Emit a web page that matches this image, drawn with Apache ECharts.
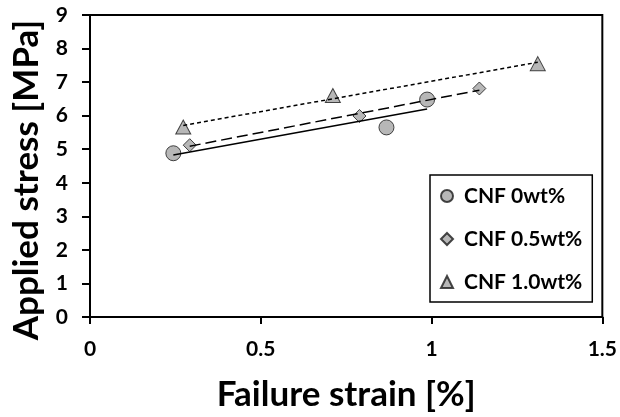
<!DOCTYPE html>
<html>
<head>
<meta charset="utf-8">
<script src="https://cdn.jsdelivr.net/npm/echarts@6/dist/echarts.min.js"></script>
<style>
html,body{margin:0;padding:0;background:#fff;}
#chart{width:620px;height:417px;}
</style>
</head>
<body>
<div id="chart"></div>
<script>
// ---- data ----
const seriesNames = ['CNF 0wt%', 'CNF 0.5wt%', 'CNF 1.0wt%'];
const strain0  = [0.244, 0.868, 0.987];
const stress0  = [4.88, 5.65, 6.48];
const strain05 = [0.292, 0.789, 1.140];
const stress05 = [5.12, 5.99, 6.81];
const strain10 = [0.273, 0.711, 1.311];
const stress10 = [5.66, 6.60, 7.55];
// linear trendline end points
const trendX0  = [0.244, 0.987];
const trendY0  = [4.83, 6.20];
const trendX05 = [0.292, 1.140];
const trendY05 = [5.09, 6.76];
const trendX10 = [0.273, 1.311];
const trendY10 = [5.71, 7.59];
const xTickLabels = ['0', '0.5', '1', '1.5'];
const yTickLabels = ['0','1','2','3','4','5','6','7','8','9'];

const pairs = (xs, ys) => xs.map((x, i) => [x, ys[i]]);
const FONT = 'Lato';

const markerStyle = { color: '#a5a5a5', borderColor: '#1a1a1a', borderWidth: 1 };

const chart = echarts.init(document.getElementById('chart'), null, { renderer: 'canvas' });
chart.setOption({
  animation: false,
  backgroundColor: '#ffffff',
  grid: { left: 90, right: 17, top: 15, bottom: 98, show: true, borderColor: '#000', borderWidth: 2, backgroundColor: 'transparent' },
  xAxis: {
    type: 'value', min: 0, max: 1.5, interval: 0.5,
    name: 'Failure strain [%]', nameLocation: 'middle', nameGap: 60,
    nameTextStyle: { fontFamily: FONT, fontWeight: 'bold', fontSize: 35, color: '#000' },
    axisLine: { show: true, lineStyle: { color: '#000', width: 2 } },
    axisTick: { show: true, inside: false, length: 7, lineStyle: { color: '#000', width: 2 } },
    axisLabel: { margin: 22, fontFamily: FONT, fontWeight: 'bold', fontSize: 21, color: '#000',
      formatter: v => xTickLabels[Math.round(v / 0.5)] },
    splitLine: { show: false }
  },
  yAxis: {
    type: 'value', min: 0, max: 9, interval: 1,
    name: 'Applied stress [MPa]', nameLocation: 'middle', nameGap: 46,
    nameTextStyle: { fontFamily: FONT, fontWeight: 'bold', fontSize: 35, color: '#000', padding: [0, 28, 0, 0] },
    axisLine: { show: true, lineStyle: { color: '#000', width: 2 } },
    axisTick: { show: true, inside: false, length: 8, lineStyle: { color: '#000', width: 2 } },
    axisLabel: { margin: 22, fontFamily: FONT, fontWeight: 'bold', fontSize: 21, color: '#000',
      formatter: v => yTickLabels[Math.round(v)] },
    splitLine: { show: false }
  },
  legend: {
    orient: 'vertical', left: 430, top: 175, width: 163,
    data: seriesNames,
    backgroundColor: '#fff', borderColor: '#000', borderWidth: 1.5,
    padding: [9, 10, 8, 10], itemGap: 19, itemWidth: 12, itemHeight: 12,
    textStyle: { fontFamily: FONT, fontWeight: 'bold', fontSize: 21, color: '#000', padding: [0, 0, 0, 6], lineHeight: 24 }
  },
  series: [
    { name: seriesNames[0], type: 'scatter', symbol: 'circle', symbolSize: 15, z: 2,
      itemStyle: markerStyle, data: pairs(strain0, stress0) },
    { name: seriesNames[1], type: 'scatter', symbol: 'diamond', symbolSize: 13, z: 2,
      itemStyle: markerStyle, data: pairs(strain05, stress05) },
    { name: seriesNames[2], type: 'scatter', symbol: 'triangle', symbolSize: [15, 14], z: 2,
      itemStyle: markerStyle, data: pairs(strain10, stress10) },
    { name: 'trend0', type: 'line', showSymbol: false, symbol: 'none', z: 3, silent: true,
      lineStyle: { color: '#000', width: 1.5, type: 'solid' }, data: pairs(trendX0, trendY0) },
    { name: 'trend05', type: 'line', showSymbol: false, symbol: 'none', z: 3, silent: true,
      lineStyle: { color: '#000', width: 1.5, type: [11, 5] }, data: pairs(trendX05, trendY05) },
    { name: 'trend10', type: 'line', showSymbol: false, symbol: 'none', z: 3, silent: true,
      lineStyle: { color: '#000', width: 1.5, type: [4, 3] }, data: pairs(trendX10, trendY10) }
  ]
});
</script>
</body>
</html>
